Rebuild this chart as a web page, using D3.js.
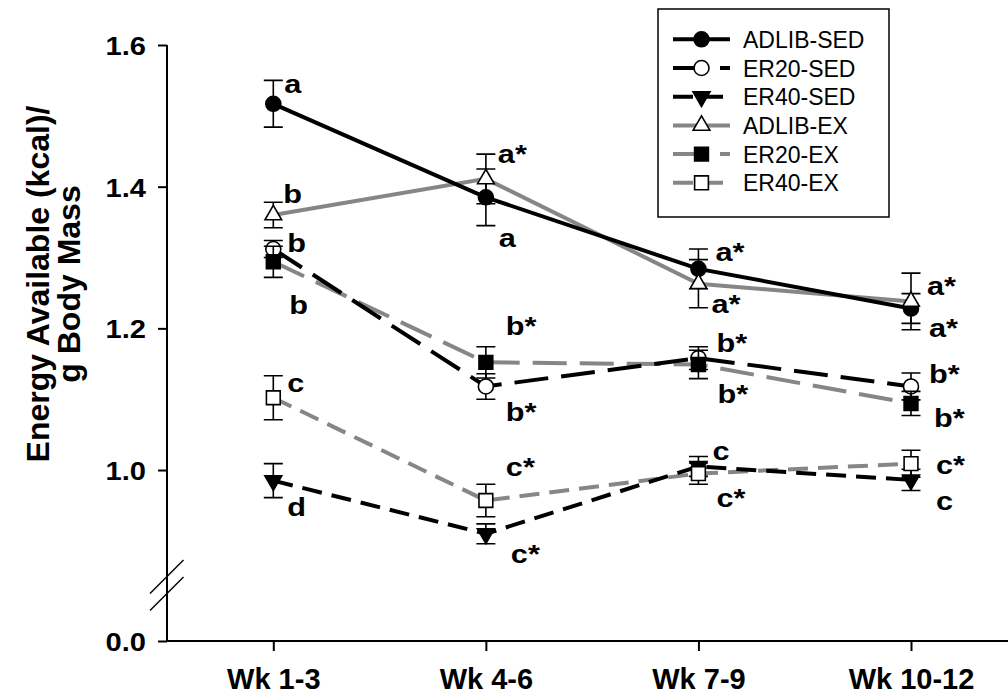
<!DOCTYPE html>
<html>
<head>
<meta charset="utf-8">
<script src="https://cdn.jsdelivr.net/npm/d3@7"></script>
<style>
  html, body { margin: 0; padding: 0; background: #fff; }
  svg { display: block; }
  text { font-family: "Liberation Sans", Arial, Helvetica, sans-serif; }
</style>
</head>
<body>
<svg id="chart" width="1008" height="696"></svg>
<script>
// ---- data ----
const weeks = ["Wk 1-3", "Wk 4-6", "Wk 7-9", "Wk 10-12"];
const seriesNames = ["ADLIB-SED", "ER20-SED", "ER40-SED", "ADLIB-EX", "ER20-EX", "ER40-EX"];

// mean energy available (kcal / g body mass)
const adlibSed = [1.517, 1.385, 1.284, 1.228];
const er20Sed  = [1.312, 1.118, 1.158, 1.118];
const er40Sed  = [0.985, 0.910, 1.005, 0.986];
const adlibEx  = [1.360, 1.411, 1.263, 1.238];
const er20Ex   = [1.294, 1.152, 1.149, 1.094];
const er40Ex   = [1.102, 0.957, 0.995, 1.009];

// standard errors
const adlibSedSe = [0.033, 0.040, 0.028, 0.021];
const er20SedSe  = [0.012, 0.018, 0.016, 0.019];
const er40SedSe  = [0.024, 0.014, 0.014, 0.015];
const adlibExSe  = [0.018, 0.035, 0.034, 0.040];
const er20ExSe   = [0.022, 0.022, 0.020, 0.017];
const er40ExSe   = [0.031, 0.023, 0.015, 0.019];

// significance letters
const adlibSedSig = ["a", "a", "a*", "a*"];
const er20SedSig  = ["b", "b*", "b*", "b*"];
const er40SedSig  = ["d", "c*", "c", "c"];
const adlibExSig  = ["b", "a*", "a*", "a*"];
const er20ExSig   = ["b", "b*", "b*", "b*"];
const er40ExSig   = ["c", "c*", "c*", "c*"];

const yTickValues = [0.0, 1.0, 1.2, 1.4, 1.6];
const yTickLabels = ["0.0", "1.0", "1.2", "1.4", "1.6"];

// ---- styling per series ----
const GRAY = "#868686";
const styles = {
  "ADLIB-SED": { color: "#000", dash: null,    symbol: "circle",  fill: "#000" },
  "ER20-SED":  { color: "#000", dash: "34,13", symbol: "circle",  fill: "#fff" },
  "ER40-SED":  { color: "#000", dash: "20,10", symbol: "tridown", fill: "#000" },
  "ADLIB-EX":  { color: GRAY,   dash: null,    symbol: "triup",   fill: "#fff" },
  "ER20-EX":   { color: GRAY,   dash: "34,13", symbol: "square",  fill: "#000" },
  "ER40-EX":   { color: GRAY,   dash: "20,10", symbol: "square",  fill: "#fff" }
};

// letter placement relative to each marker [dx, dy] per week
const sigOffsets = {
  "ADLIB-SED": [[11, -11], [13, 50], [17, -8], [18, 28]],
  "ER20-SED":  [[14, 3],   [20, 35], [18, -6], [18, -3]],
  "ER40-SED":  [[14, 35],  [25, 29], [14, -6], [25, 30]],
  "ADLIB-EX":  [[10, -12], [12, -16],[13, 29], [16, -6]],
  "ER20-EX":   [[16, 52],  [20, -27],[19, 39], [23, 24]],
  "ER40-EX":   [[14, -6],  [20, -24],[18, 33], [25, 10]]
};

const series = [
  { name: "ADLIB-SED", mean: adlibSed, se: adlibSedSe, sig: adlibSedSig },
  { name: "ER20-SED",  mean: er20Sed,  se: er20SedSe,  sig: er20SedSig },
  { name: "ER40-SED",  mean: er40Sed,  se: er40SedSe,  sig: er40SedSig },
  { name: "ADLIB-EX",  mean: adlibEx,  se: adlibExSe,  sig: adlibExSig },
  { name: "ER20-EX",   mean: er20Ex,   se: er20ExSe,   sig: er20ExSig },
  { name: "ER40-EX",   mean: er40Ex,   se: er40ExSe,   sig: er40ExSig }
];

// ---- scales ----
const svg = d3.select("#chart");
const axisX0 = 167, axisY0 = 641;

const x = d3.scalePoint().domain(weeks).range([273.3, 911]);
// broken y axis: 0 .. 0.8 compressed at the bottom, 0.8 .. 1.6 linear
const y = d3.scaleLinear().domain([0, 0.8, 1.6]).range([axisY0, 611.7, 45]);

// ---- axes ----
const yAxis = d3.axisLeft(y)
  .tickValues(yTickValues)
  .tickFormat((d, i) => yTickLabels[i])
  .tickSize(9).tickPadding(12);
const gy = svg.append("g").attr("transform", `translate(${axisX0},0)`).call(yAxis);
gy.select(".domain").attr("d", `M0,${y(1.6)}V${axisY0}`).attr("stroke", "#000").attr("stroke-width", 2);
gy.selectAll(".tick line").attr("stroke", "#000").attr("stroke-width", 2);
gy.selectAll(".tick text")
  .attr("fill", "#000").attr("font-size", 26).attr("font-weight", "bold")
  .attr("font-family", "Liberation Sans, Arial, sans-serif")
  .attr("x", null).attr("dy", null)
  .attr("transform", "translate(-21,9.5) scale(1.12,1)");

const xAxis = d3.axisBottom(x).tickSize(10).tickPadding(17);
const gx = svg.append("g").attr("transform", `translate(0,${axisY0})`).call(xAxis);
gx.select(".domain").attr("d", `M${axisX0},0H1008`).attr("stroke", "#000").attr("stroke-width", 2);
gx.selectAll(".tick line").attr("stroke", "#000").attr("stroke-width", 2);
gx.selectAll(".tick text")
  .attr("fill", "#000").attr("font-size", 29).attr("font-weight", "bold")
  .attr("font-family", "Liberation Sans, Arial, sans-serif");

// axis break marks
const brk = svg.append("g").attr("stroke", "#000").attr("stroke-width", 1.5);
[560, 577].forEach(t => {
  brk.append("line").attr("x1", axisX0 + 16.5).attr("y1", t)
    .attr("x2", axisX0 - 17).attr("y2", t + 33.5);
});

// y axis title
const yTitle = svg.append("text")
  .attr("transform", "translate(0,284) rotate(-90)")
  .attr("text-anchor", "middle").attr("font-size", 32).attr("font-weight", "bold")
  .attr("fill", "#000");
yTitle.append("tspan").attr("x", 0).attr("y", 49).text("Energy Available (kcal)/");
yTitle.append("tspan").attr("x", 0).attr("y", 80).text("g Body Mass");

// ---- markers ----
function markerPath(kind) {
  switch (kind) {
    case "circle":  return d3.symbol(d3.symbolCircle, 177)();
    case "square":  return d3.symbol(d3.symbolSquare, 190)();
    case "triup":   return d3.symbol(d3.symbolTriangle, 120)();
    case "tridown": return d3.symbol(d3.symbolTriangle, 125)();
  }
}
function drawMarker(g, name, cx, cy) {
  const s = styles[name];
  g.append("path")
    .attr("d", markerPath(s.symbol))
    .attr("transform", `translate(${cx},${cy})` + (s.symbol === "tridown" ? " rotate(180)" : ""))
    .attr("fill", s.fill).attr("stroke", "#000").attr("stroke-width", 1.6);
}

// ---- lines (exercise groups underneath) ----
const line = d3.line().x((d, i) => x(weeks[i])).y(d => y(d));
const lineOrder = ["ADLIB-EX", "ER20-EX", "ER40-EX", "ADLIB-SED", "ER20-SED", "ER40-SED"];
const gLines = svg.append("g");
lineOrder.forEach(n => {
  const s = series.find(d => d.name === n);
  gLines.append("path")
    .attr("d", line(s.mean))
    .attr("fill", "none")
    .attr("stroke", styles[n].color)
    .attr("stroke-width", 4)
    .attr("stroke-dasharray", styles[n].dash);
});

// ---- error bars + markers ----
const gPts = svg.append("g");
const cap = 9.5;
series.forEach(s => {
  s.mean.forEach((m, i) => {
    const cx = x(weeks[i]);
    const y1 = y(m + s.se[i]), y2 = y(m - s.se[i]);
    gPts.append("path")
      .attr("d", `M${cx},${y1}V${y2}M${cx - cap},${y1}H${cx + cap}M${cx - cap},${y2}H${cx + cap}`)
      .attr("stroke", "#000").attr("stroke-width", 1.6).attr("fill", "none");
  });
  s.mean.forEach((m, i) => drawMarker(gPts, s.name, x(weeks[i]), y(m)));
});

// ---- significance letters ----
const gSig = svg.append("g")
  .attr("font-size", 26).attr("font-weight", "bold").attr("fill", "#000");
series.forEach(s => {
  s.sig.forEach((lab, i) => {
    const [dx, dy] = sigOffsets[s.name][i];
    gSig.append("text")
      .attr("transform", `translate(${x(weeks[i]) + dx},${y(s.mean[i]) + dy}) scale(1.18,1)`)
      .text(lab);
  });
});

// ---- legend ----
const lg = svg.append("g");
lg.append("rect").attr("x", 658).attr("y", 9).attr("width", 231).attr("height", 208)
  .attr("fill", "#fff").attr("stroke", "#000").attr("stroke-width", 1.5);
seriesNames.forEach((n, i) => {
  const ry = 39.3 + i * 28.7;
  lg.append("line").attr("x1", 673).attr("x2", 730).attr("y1", ry).attr("y2", ry)
    .attr("stroke", styles[n].color).attr("stroke-width", 4)
    .attr("stroke-dasharray", styles[n].dash);
  drawMarker(lg, n, 701.5, ry);
  lg.append("text").attr("x", 743).attr("y", ry + 8.5)
    .attr("font-size", 23).attr("fill", "#000").text(n);
});
</script>
</body>
</html>
